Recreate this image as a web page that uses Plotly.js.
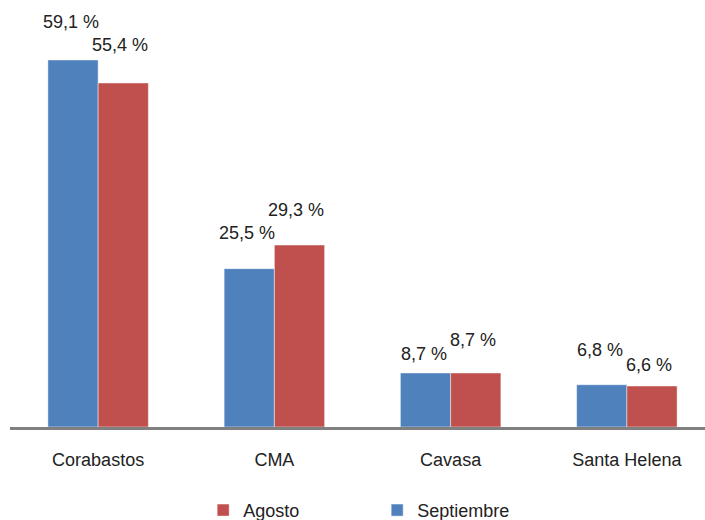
<!DOCTYPE html>
<html>
<head>
<meta charset="utf-8">
<script src="https://cdn.plot.ly/plotly-3.0.1.min.js"></script>
<style>html,body{margin:0;padding:0;overflow:hidden;background:#fff;}</style>
</head>
<body>
<div id="chart" style="width:715px;height:520px;"></div>
<script>
var categories = ["Corabastos", "CMA", "Cavasa", "Santa Helena"];
var septiembre = [59.1, 25.5, 8.7, 6.8];
var agosto = [55.4, 29.3, 8.7, 6.6];
var septLabels = ["59,1 %", "25,5 %", "8,7 %", "6,8 %"];
var agoLabels = ["55,4 %", "29,3 %", "8,7 %", "6,6 %"];

// label placement (style): vertical offset of each label centre above its bar
var septShift = [38, 36, 19, 35];
var agoShift = [38, 35, 33, 21];

var font = "Liberation Sans, Arial, sans-serif";
var blue = "#4F81BD", red = "#C0504D";

var traces = [
  {type: "bar", name: "Septiembre", x: categories, y: septiembre,
   marker: {color: blue, line: {color: "rgba(255,255,255,0.45)", width: 1}}, hoverinfo: "none"},
  {type: "bar", name: "Agosto", x: categories, y: agosto,
   marker: {color: red, line: {color: "rgba(255,255,255,0.45)", width: 1}}, hoverinfo: "none"}
];

var annotations = [];
categories.forEach(function(c, i) {
  annotations.push({x: c, y: septiembre[i], xref: "x", yref: "y", text: septLabels[i],
    showarrow: false, xshift: -27, yshift: septShift[i], yanchor: "middle",
    font: {family: font, size: 18, color: "#222"}});
  annotations.push({x: c, y: agosto[i], xref: "x", yref: "y", text: agoLabels[i],
    showarrow: false, xshift: 22, yshift: agoShift[i], yanchor: "middle",
    font: {family: font, size: 18, color: "#222"}});
});

var layout = {
  width: 715, height: 520,
  margin: {l: 10, r: 0, t: 10, b: 93, autoexpand: false},
  paper_bgcolor: "#fff", plot_bgcolor: "#fff",
  barmode: "group", bargap: 0.43, bargroupgap: 0,
  showlegend: true,
  legend: {orientation: "h", traceorder: "reversed", x: 0.274, xanchor: "left",
    y: -0.2, yanchor: "middle", entrywidth: 129, entrywidthmode: "pixels",
    font: {family: font, size: 18, color: "#222"}},
  xaxis: {showline: true, linecolor: "#808080", linewidth: 3, showgrid: false,
    ticks: "outside", ticklen: 14, tickcolor: "rgba(0,0,0,0)",
    tickfont: {family: font, size: 18, color: "#222"}, fixedrange: true, automargin: false},
  yaxis: {range: [0, 67.15], visible: false, showgrid: false, zeroline: false, fixedrange: true},
  annotations: annotations,
  font: {family: font}
};

Plotly.newPlot("chart", traces, layout, {displayModeBar: false, staticPlot: true});
</script>
</body>
</html>
